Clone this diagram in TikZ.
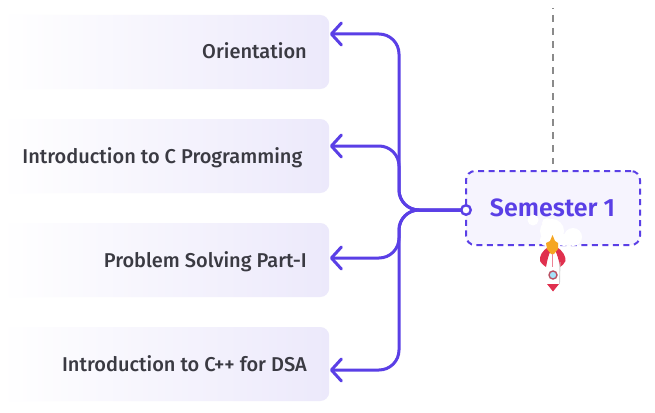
\documentclass[tikz,border=0pt]{standalone}
\usepackage{fontspec}
\setmainfont{Fira Sans}[UprightFont={* Medium},BoldFont={* SemiBold}]
\definecolor{vio}{HTML}{5A3FE6}
\definecolor{boxend}{HTML}{ECE9FB}
\definecolor{semfill}{HTML}{F6F4FE}
\definecolor{ink}{HTML}{3A3A42}
\definecolor{guide}{HTML}{8A8A8A}
\definecolor{rred}{HTML}{E0304E}
\definecolor{rflame}{HTML}{F5A623}
\usetikzlibrary{arrows.meta}
\pgfdeclarehorizontalshading{topicfade}{100bp}{color(0bp)=(white); color(25bp)=(white); color(75bp)=(boxend); color(100bp)=(boxend)}
\tikzset{
 topic/.style={minimum width=329pt,minimum height=74pt,inner sep=0pt,rounded corners=9pt,shading=topicfade,anchor=west},
 topiclabel/.style={font=\fontsize{20}{24}\selectfont,text=ink,inner sep=0pt,anchor=base east},
 link/.style={draw=vio,line width=3pt,line cap=round,rounded corners=20pt,-{Straight Barb[length=10pt,width=22pt,line width=3pt,round]}},
}
\begin{document}
\begin{tikzpicture}[x=1pt,y=-1pt]
\useasboundingbox (0,0) rectangle (655,412);
\fill[white] (0,0) rectangle (655,412);
\node[topic] (t1) at (0,52) {};
\node[topic] (t2) at (0,156) {};
\node[topic] (t3) at (0,260) {};
\node[topic] (t4) at (0,364) {};
\node[topiclabel] (l1) at (307,59) {Orientation};
\node[topiclabel] (l2) at (302.5,163) {Introduction to C Programming};
\node[topiclabel] (l3) at (307,267) {Problem Solving Part-I};
\node[topiclabel] (l4) at (307,371) {Introduction to C++ for DSA};
\node[draw=vio,line width=2pt,dash pattern=on 6pt off 4.5pt,fill=semfill,rounded corners=9pt,minimum width=174pt,minimum height=74pt,inner sep=0pt] (sem) at (553,208) {};
\node[font=\fontsize{25}{28}\selectfont\bfseries,text=vio,inner sep=0pt,anchor=base] (semt) at (552.5,216) {Semester 1};
\coordinate (top) at (553,8);
\draw[guide,line width=1.8pt,dash pattern=on 7pt off 6pt,dash phase=6pt] (top) -- ([yshift=6pt]sem.north);
\coordinate (hub) at ([xshift=1pt,yshift=-2pt]sem.west);
\coordinate (t1a) at ([xshift=0.5pt,yshift=18pt]t1.east);
\coordinate (t2a) at ([xshift=0.5pt,yshift=10pt]t2.east);
\coordinate (t3a) at ([xshift=0.5pt,yshift=2pt]t3.east);
\coordinate (t4a) at ([xshift=0.5pt,yshift=-6pt]t4.east);
\draw[link] (hub) -- (399,210) -- (399,34) -- (t1a);
\draw[link] (hub) -- (399,210) -- (399,146) -- (t2a);
\draw[link] (hub) -- (399,210) -- (399,258) -- (t3a);
\draw[link] (hub) -- (399,210) -- (399,370) -- (t4a);
\node[circle,draw=vio,line width=2.4pt,fill=white,minimum size=9.5pt,inner sep=0pt] (dot) at (hub) {};
% smoke
\fill[white] (533,220) circle (5.5) (547,223) circle (5) (552,231) circle (12) (573,237) circle (9) (564,240) circle (6) (546,240) circle (6) (557,243) circle (4);
% rocket
\fill[rred] (549,247) .. controls (542,250) and (539,257) .. (540,261) .. controls (542,264) and (544,266) .. (546,267) .. controls (547,262) and (548,256) .. (551,250) -- cycle;
\fill[rred] (556,247) .. controls (563,250) and (566,257) .. (565.5,261) .. controls (564,264) and (562,266) .. (560,267) .. controls (559,262) and (558,256) .. (555,250) -- cycle;
\fill[white] (553,248) .. controls (559,256) and (561,272) .. (559.5,285) -- (547,285) .. controls (545.5,272) and (547,256) .. (553,248) -- cycle;
\fill[rflame] (552.5,235) -- (555,241) -- (558,243) -- (558,249) -- (554,254) -- (551,254) -- (547,249) -- (546,243) -- (550,241) -- cycle;
\draw[rred!60,line width=1.4pt] (552.5,254) -- (552.5,267);
\draw[gray!35,line width=.9pt] (560,262) -- (559.5,284);
\fill[rred] (547,284) -- (559,284) -- (553,291.5) -- cycle;
\filldraw[fill=cyan!35,draw=rred!60!gray,line width=1.4pt] (553,275) circle (4);
\end{tikzpicture}
\end{document}
